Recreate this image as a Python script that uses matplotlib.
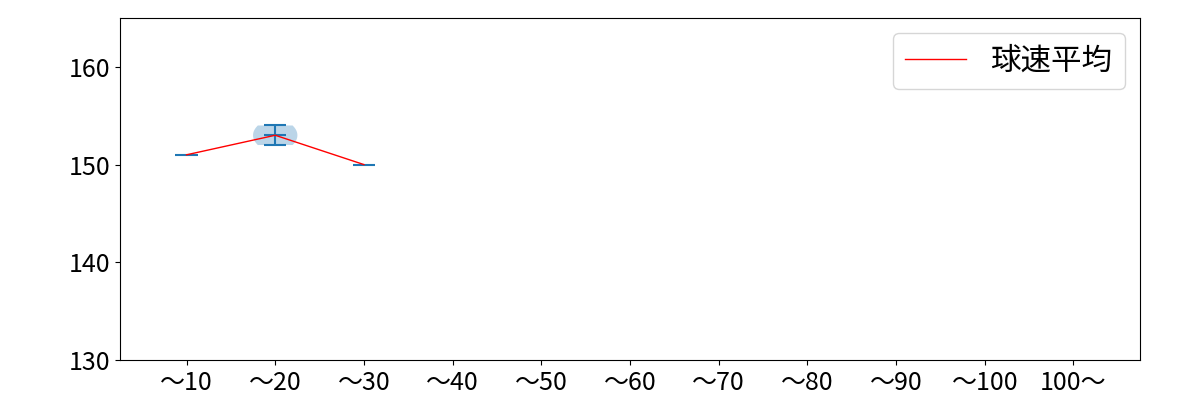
import numpy as np
import matplotlib.pyplot as plt

plt.rcParams['font.family'] = ['Noto Sans CJK JP', 'DejaVu Sans']

# 投球数の区分と球速データ
categories = ['～10', '～20', '～30', '～40', '～50', '～60', '～70', '～80', '～90', '～100', '100～']
speeds = [
    [151],
    [152, 153, 154],
    [150],
    [], [], [], [], [], [], [], [],
]

fig, ax = plt.subplots(figsize=(12, 4), dpi=100)
fig.subplots_adjust(left=0.1, right=0.95, top=0.955, bottom=0.1)

positions = np.arange(1, len(categories) + 1)
means_x, means_y = [], []
for pos, vals in zip(positions, speeds):
    if len(vals) == 0:
        continue
    means_x.append(pos)
    means_y.append(np.mean(vals))
    if len(vals) > 1:
        vp = ax.violinplot([vals], positions=[pos], showmeans=True, widths=0.5)
        for b in vp['bodies']:
            b.set_facecolor('#1f77b4')
            b.set_alpha(0.3)
    else:
        ax.hlines(vals[0], pos - 0.125, pos + 0.125, color='#1f77b4', linewidth=1.5)

ax.plot(means_x, means_y, color='red', linewidth=1, label='球速平均')

ax.set_xticks(positions)
ax.set_xticklabels(categories, fontsize=18)
ax.set_xlim(0.25, 11.75)
ax.set_ylim(130, 165)
ax.set_yticks([130, 140, 150, 160])
ax.tick_params(axis='y', labelsize=18)
ax.legend(loc='upper right', fontsize=22)

fig.savefig('out.png')
